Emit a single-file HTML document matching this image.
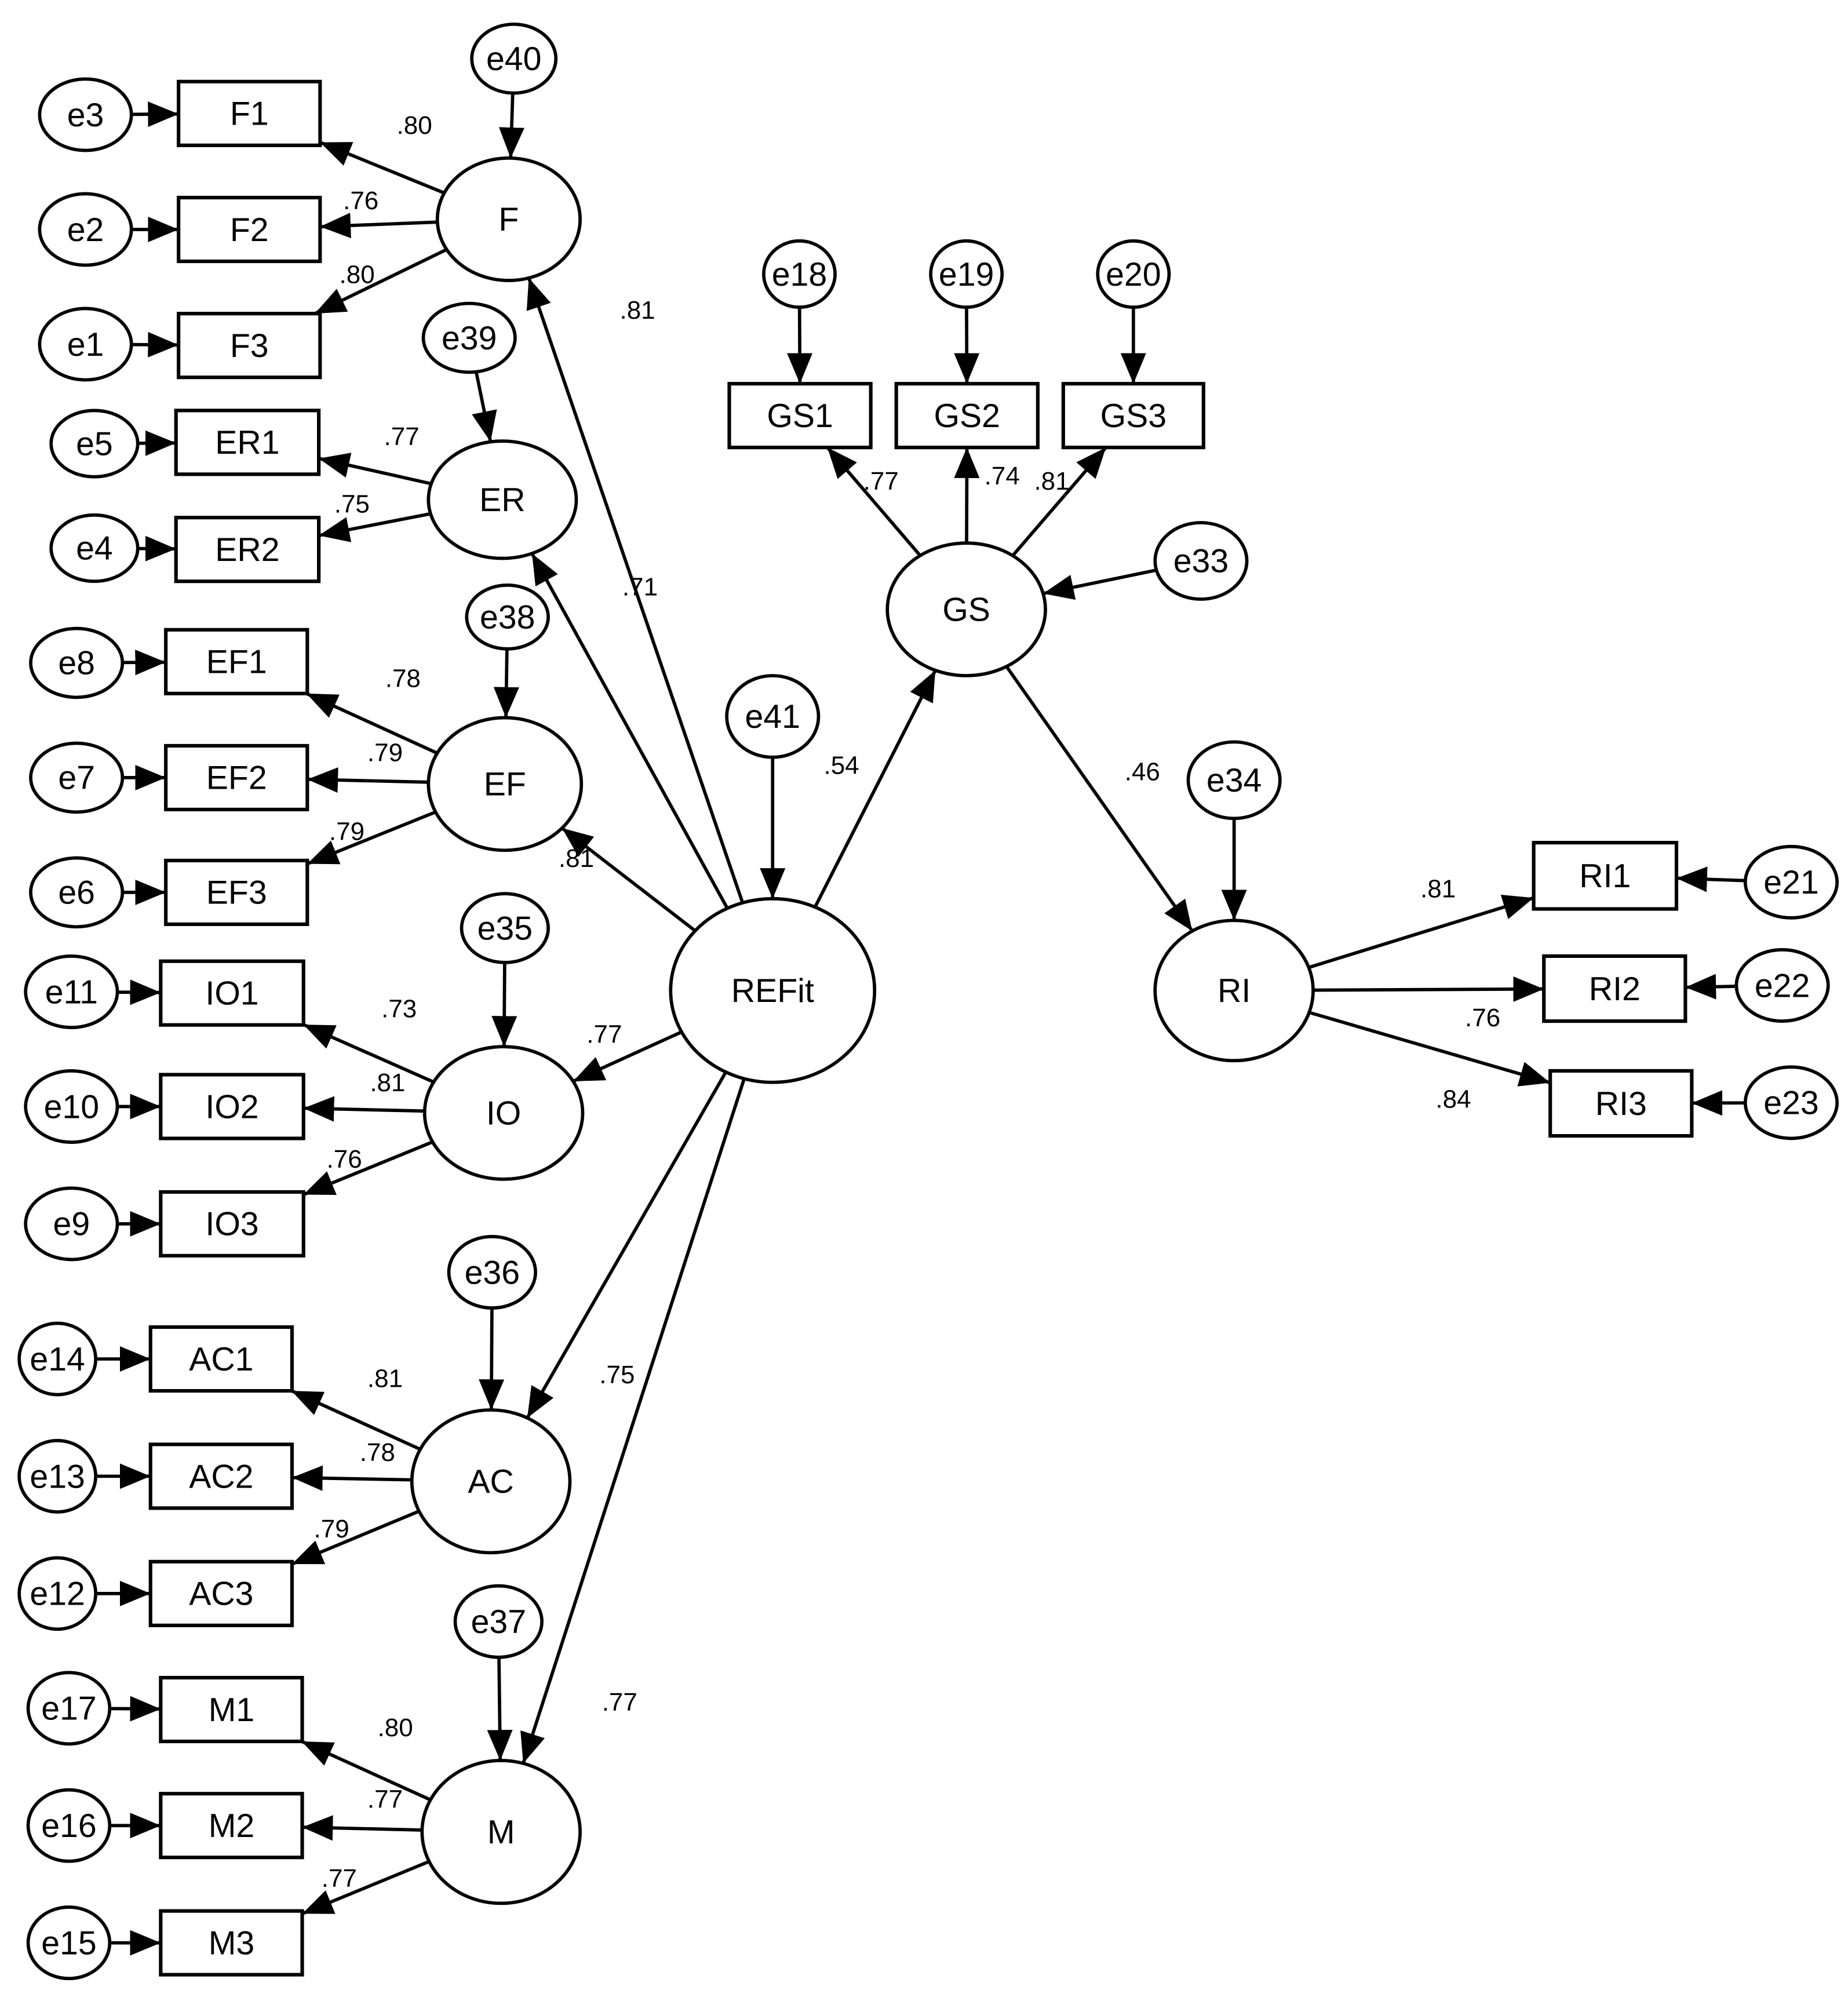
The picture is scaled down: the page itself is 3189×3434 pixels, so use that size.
<!DOCTYPE html>
<html><head><meta charset="utf-8"><style>
html,body{margin:0;padding:0;background:#fff}
svg{display:block}
text{font-family:"Liberation Sans",Arial,sans-serif;fill:#000}
</style></head><body>
<svg id="s" xmlns="http://www.w3.org/2000/svg" width="3189" height="3434" viewBox="0 0 1449.5 1561">
<defs>
<marker id="a" markerUnits="userSpaceOnUse" markerWidth="30" markerHeight="24" refX="24" refY="10" orient="auto"><path d="M0,0 L24,10 L0,20 Z" fill="#000"/></marker>
</defs>
<g id="g"></g>
</svg>
<script>
var N={};
function E(n,cx,cy,rx,ry,fs){N[n]={t:'e',cx:cx,cy:cy,rx:rx,ry:ry,fs:fs||26};}
function R(n,x1,y1,x2,y2){N[n]={t:'r',cx:(x1+x2)/2,cy:(y1+y2)/2,x1:x1,y1:y1,x2:x2,y2:y2,fs:26};}
E('e40',403,46,33,27);E('F',399,172,56,48);
R('F1',140,64,251,114);R('F2',140,155,251,205);R('F3',140,246,251,296);
E('e3',67,90,36,28);E('e2',67,180,36,28);E('e1',67,270,36,28);
E('e39',368,265,36,27);E('ER',394,392,58,46);
R('ER1',138,322,250,372);R('ER2',138,406,250,456);
E('e5',74,348,34,26);E('e4',74,430,34,26);
E('e38',398,484,32,25);E('EF',396,615,60,52);
R('EF1',130,494,241,544);R('EF2',130,585,241,635);R('EF3',130,675,241,725);
E('e8',60,520,36,27);E('e7',60,610,36,27);E('e6',60,700,36,27);
E('e35',396,728,34,27);E('IO',395,873,62,52);
R('IO1',126,754,238,804);R('IO2',126,843,238,893);R('IO3',126,935,238,985);
E('e11',56,778,36,28);E('e10',56,868,36,28);E('e9',56,960,36,28);
E('e36',386,998,34,28);E('AC',385,1162,62,56);
R('AC1',118,1041,229,1091);R('AC2',118,1133,229,1183);R('AC3',118,1225,229,1275);
E('e14',45,1066,30,28);E('e13',45,1158,30,28);E('e12',45,1250,30,28);
E('e37',391,1272,34,28);E('M',393,1437,62,56);
R('M1',126,1316,237,1366);R('M2',126,1407,237,1457);R('M3',126,1499,237,1549);
E('e17',54,1340,32,28);E('e16',54,1432,32,28);E('e15',54,1524,32,28);
E('REFit',606,777,80,72);E('e41',606,562,36,32);
E('GS',758,478,62,52);
E('e18',627,215,28,26);E('e19',758,215,28,26);E('e20',889,215,28,26);
R('GS1',572,301,683,351);R('GS2',703,301,814,351);R('GS3',834,301,944,351);
E('e33',942,440,36,30);E('RI',968,777,62,55);E('e34',968,612,36,30);
R('RI1',1203,661,1315,713);R('RI2',1211,750,1322,801);R('RI3',1216,840,1327,891);
E('e21',1405,692,36,28);E('e22',1398,773,36,28);E('e23',1405,865,36,28);
function bp(n,dx,dy){var d=Math.sqrt(dx*dx+dy*dy),ux=dx/d,uy=dy/d,t;
 if(n.t=='e'){t=1/Math.sqrt(Math.pow(ux/n.rx,2)+Math.pow(uy/n.ry,2));}
 else{var hw=(n.x2-n.x1)/2,hh=(n.y2-n.y1)/2;t=Math.min(Math.abs(ux)>1e-6?hw/Math.abs(ux):1e9,Math.abs(uy)>1e-6?hh/Math.abs(uy):1e9);}
 return [n.cx+ux*t,n.cy+uy*t];}
var h='';
var A=[['e40','F'],['F','F1'],['F','F2'],['F','F3'],['e3','F1'],['e2','F2'],['e1','F3'],
['e39','ER'],['ER','ER1'],['ER','ER2'],['e5','ER1'],['e4','ER2'],
['e38','EF'],['EF','EF1'],['EF','EF2'],['EF','EF3'],['e8','EF1'],['e7','EF2'],['e6','EF3'],
['e35','IO'],['IO','IO1'],['IO','IO2'],['IO','IO3'],['e11','IO1'],['e10','IO2'],['e9','IO3'],
['e36','AC'],['AC','AC1'],['AC','AC2'],['AC','AC3'],['e14','AC1'],['e13','AC2'],['e12','AC3'],
['e37','M'],['M','M1'],['M','M2'],['M','M3'],['e17','M1'],['e16','M2'],['e15','M3'],
['REFit','F'],['REFit','ER'],['REFit','EF'],['REFit','IO'],['REFit','AC'],['REFit','M'],['e41','REFit'],['REFit','GS'],
['e18','GS1'],['e19','GS2'],['e20','GS3'],['GS','GS1'],['GS','GS2'],['GS','GS3'],['e33','GS'],['GS','RI'],['e34','RI'],
['RI','RI1'],['RI','RI2'],['RI','RI3'],['e21','RI1'],['e22','RI2'],['e23','RI3']];
A.forEach(function(p){var a=N[p[0]],b=N[p[1]],dx=b.cx-a.cx,dy=b.cy-a.cy;
 var s=bp(a,dx,dy),e=bp(b,-dx,-dy);
 h+='<line x1="'+s[0]+'" y1="'+s[1]+'" x2="'+e[0]+'" y2="'+e[1]+'" stroke="#000" stroke-width="2.6" marker-end="url(#a)"/>';});
for(var k in N){var n=N[k];
 if(n.t=='e')h+='<ellipse cx="'+n.cx+'" cy="'+n.cy+'" rx="'+n.rx+'" ry="'+n.ry+'" fill="#fff" stroke="#000" stroke-width="2.6"/>';
 else h+='<rect x="'+n.x1+'" y="'+n.y1+'" width="'+(n.x2-n.x1)+'" height="'+(n.y2-n.y1)+'" fill="#fff" stroke="#000" stroke-width="2.8"/>';
 h+='<text x="'+n.cx+'" y="'+(n.cy+9)+'" font-size="26" text-anchor="middle">'+k+'</text>';}
var L=[['.80',325,98],['.76',283,157],['.80',280,215],['.81',500,243],['.77',315,342],['.75',276,395],['.71',502,460],
['.78',316,532],['.79',302,590],['.79',272,652],['.81',452,673],['.73',313,791],['.81',304,849],['.76',270,909],['.77',474,811],
['.81',302,1081],['.78',296,1139],['.79',260,1199],['.75',484,1078],['.80',310,1355],['.77',302,1411],['.77',266,1473],['.77',486,1335],
['.54',660,600],['.77',691,377],['.74',786,373],['.81',825,377],['.46',896,605],['.81',1128,697],['.76',1163,798],['.84',1140,862]];
L.forEach(function(l){h+='<text x="'+l[1]+'" y="'+(l[2]+7)+'" font-size="20" text-anchor="middle">'+l[0]+'</text>';});
document.getElementById('g').innerHTML=h;
</script>
</body></html>
